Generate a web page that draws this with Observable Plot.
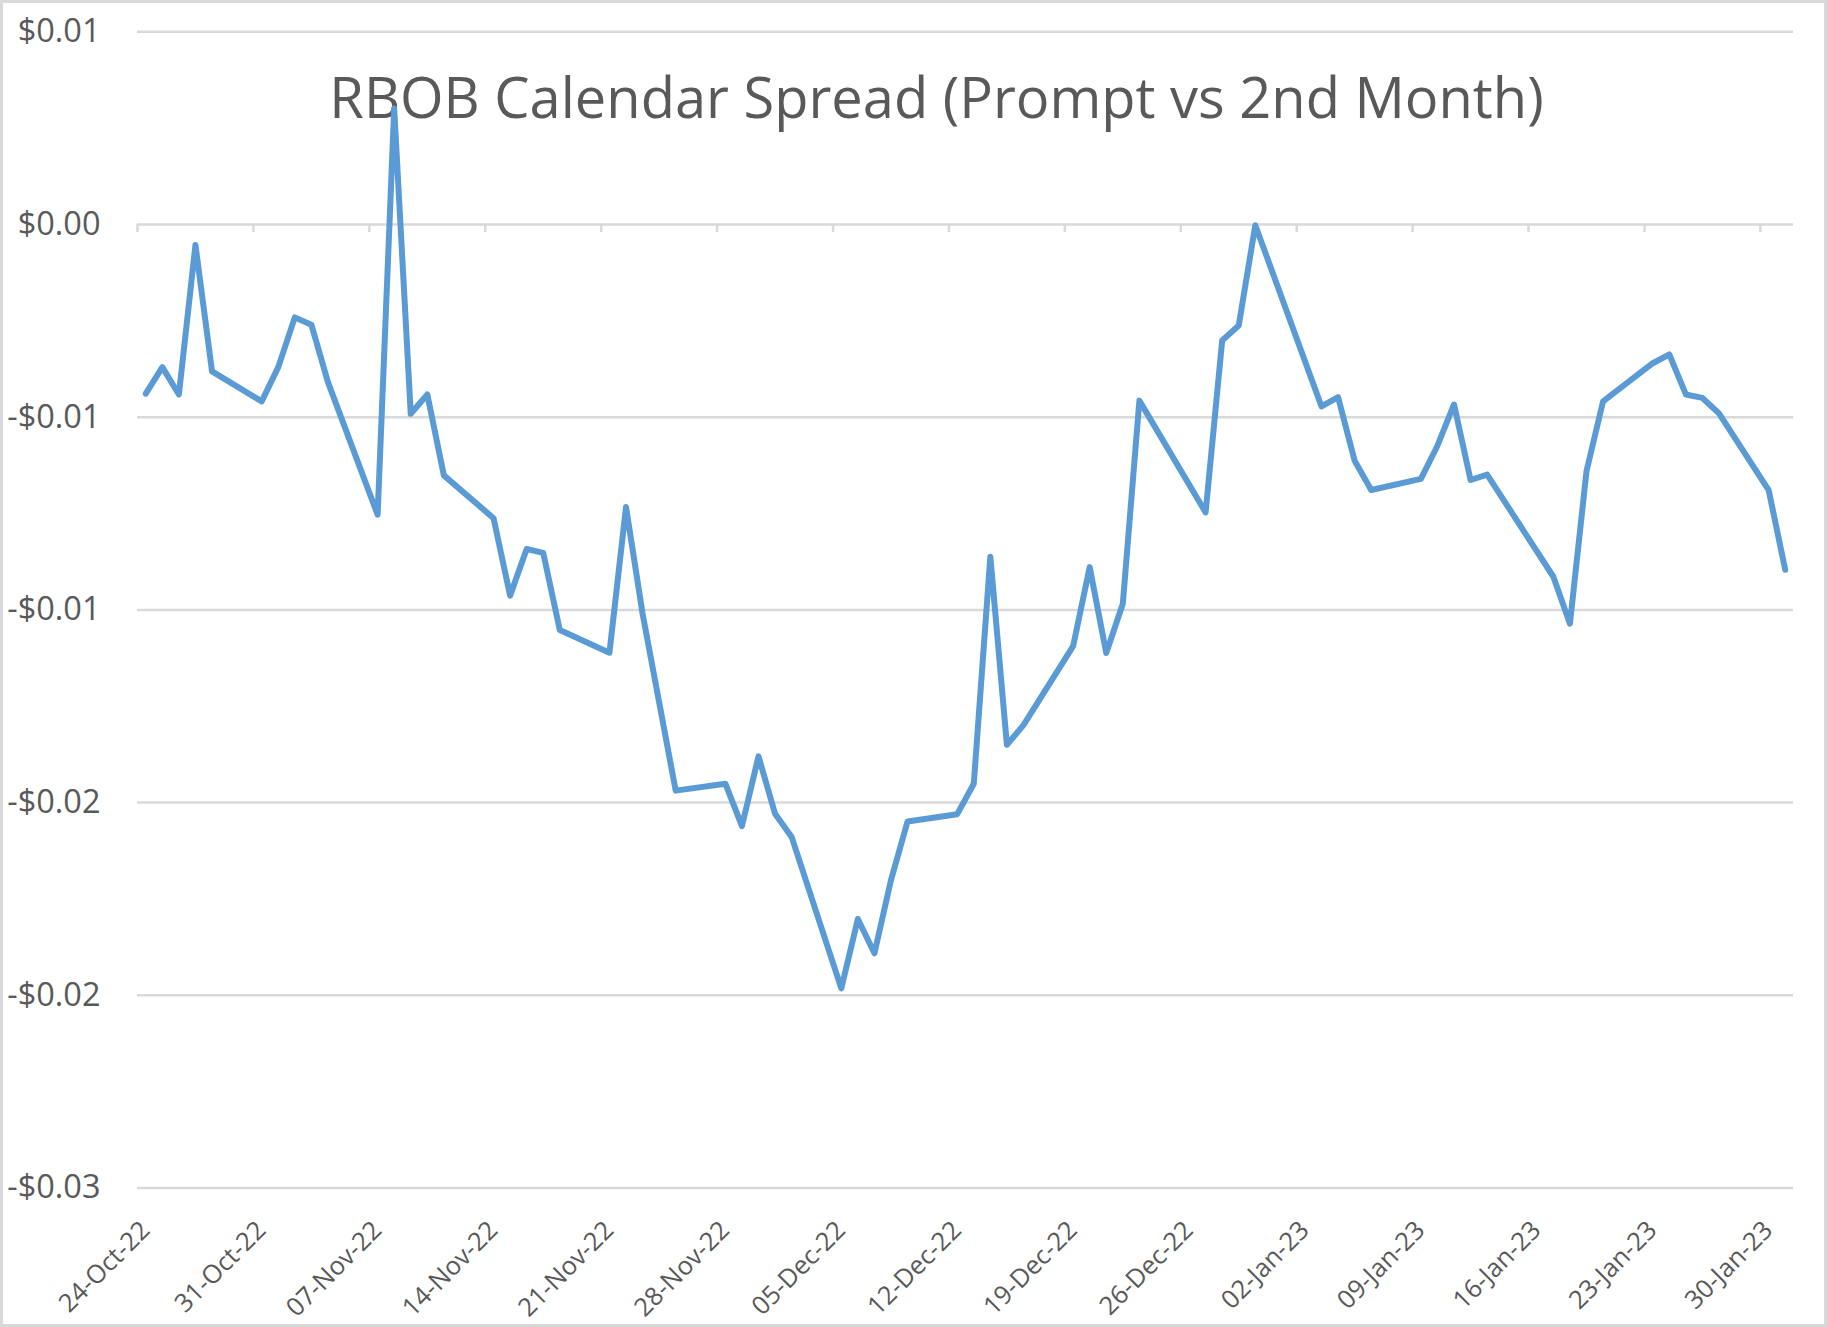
<!DOCTYPE html>
<html>
<head>
<meta charset="utf-8">
<script src="https://cdn.jsdelivr.net/npm/d3@7"></script>
<script src="https://cdn.jsdelivr.net/npm/@observablehq/plot@0.6"></script>
<style>
  html, body { margin: 0; padding: 0; background: #fff; }
  #wrap { position: relative; width: 1827px; height: 1327px; }
  #border { position: absolute; inset: 0; border: 3px solid #d9d9d9; box-sizing: border-box; pointer-events: none; }
</style>
</head>
<body>
<div id="wrap"><div id="chart"></div><div id="border"></div></div>
<script>
const title = "RBOB Calendar Spread (Prompt vs 2nd Month)";

const dates = [
  "2022-10-24","2022-10-25","2022-10-26","2022-10-27","2022-10-28",
  "2022-10-31","2022-11-01","2022-11-02","2022-11-03","2022-11-04",
  "2022-11-07","2022-11-08","2022-11-09","2022-11-10","2022-11-11",
  "2022-11-14","2022-11-15","2022-11-16","2022-11-17","2022-11-18",
  "2022-11-21","2022-11-22","2022-11-23","2022-11-25",
  "2022-11-28","2022-11-29","2022-11-30","2022-12-01","2022-12-02",
  "2022-12-05","2022-12-06","2022-12-07","2022-12-08","2022-12-09",
  "2022-12-12","2022-12-13","2022-12-14","2022-12-15","2022-12-16",
  "2022-12-19","2022-12-20","2022-12-21","2022-12-22","2022-12-23",
  "2022-12-27","2022-12-28","2022-12-29","2022-12-30",
  "2023-01-03","2023-01-04","2023-01-05","2023-01-06",
  "2023-01-09","2023-01-10","2023-01-11","2023-01-12","2023-01-13",
  "2023-01-17","2023-01-18","2023-01-19","2023-01-20",
  "2023-01-23","2023-01-24","2023-01-25","2023-01-26","2023-01-27",
  "2023-01-30","2023-01-31"
];

const spreads = [
  -0.00439, -0.00370, -0.00441, -0.00053, -0.00381,
  -0.00459, -0.00370, -0.00241, -0.00260, -0.00409,
  -0.00753,  0.00301, -0.00491, -0.00441, -0.00651,
  -0.00762, -0.00963, -0.00842, -0.00852, -0.01052,
  -0.01111, -0.00733, -0.01010, -0.01469,
  -0.01451, -0.01561, -0.01380, -0.01529, -0.01589,
  -0.01982, -0.01802, -0.01891, -0.01701, -0.01549,
  -0.01530, -0.01451, -0.00862, -0.01350, -0.01299,
  -0.01094, -0.00889, -0.01112, -0.00984, -0.00457,
  -0.00747, -0.00301, -0.00262, -0.00002,
  -0.00472, -0.00448, -0.00613, -0.00689,
  -0.00660, -0.00574, -0.00467, -0.00663, -0.00649,
  -0.00914, -0.01036, -0.00640, -0.00459,
  -0.00360, -0.00337, -0.00441, -0.00450, -0.00490,
  -0.00689, -0.00896
];

const xTicks = [
  "2022-10-24","2022-10-31","2022-11-07","2022-11-14","2022-11-21",
  "2022-11-28","2022-12-05","2022-12-12","2022-12-19","2022-12-26",
  "2023-01-02","2023-01-09","2023-01-16","2023-01-23","2023-01-30"
];
const xDomain = ["2022-10-24", "2023-02-01"];

const yTicks = [0.005, 0, -0.005, -0.01, -0.015, -0.02, -0.025];
const yTickLabels = ["$0.01", "$0.00", "-$0.01", "-$0.01", "-$0.02", "-$0.02", "-$0.03"];

const utc = s => new Date(s + "T00:00:00Z");
const midday = s => new Date(s + "T12:00:00Z");

const table = dates.map((d, i) => ({date: d, value: spreads[i]}));
const tickDates = xTicks.map(utc);

const chart = Plot.plot({
  width: 1827,
  height: 1327,
  marginLeft: 137,
  marginRight: 34,
  marginTop: 31.3,
  marginBottom: 139.5,
  style: {fontFamily: "'Open Sans', sans-serif", color: "#595959", background: "#fff", overflow: "visible"},
  x: {type: "utc", domain: xDomain.map(utc), axis: null},
  y: {domain: [-0.025, 0.005], axis: null},
  marks: [
    Plot.gridY(yTicks, {stroke: "#d9d9d9", strokeOpacity: 1, strokeWidth: 2.5}),
    Plot.ruleX(tickDates, {x: d => d, y1: 0, y2: 0, insetBottom: -8, stroke: "#d9d9d9", strokeWidth: 2.5}),
    Plot.axisY({
      ticks: yTicks,
      tickFormat: d => yTickLabels[yTicks.indexOf(d)],
      label: null,
      tickSize: 0,
      tickPadding: 37,
      fontSize: 32.5,
      fill: "#595959"
    }),
    Plot.axisX({
      ticks: tickDates,
      tickFormat: d3.utcFormat("%d-%b-%y"),
      label: null,
      tickRotate: -45,
      tickSize: 0,
      tickPadding: 31,
      textAnchor: "end",
      lineAnchor: "top",
      dx: 1,
      fontSize: 25.5,
      fill: "#595959"
    }),
    Plot.text([title], {
      frameAnchor: "top",
      text: d => d,
      lineAnchor: "bottom",
      dx: -29,
      dy: 86.4,
      fontSize: 56,
      fill: "#595959"
    }),
    Plot.line(table, {
      x: d => midday(d.date),
      y: "value",
      stroke: "#5b9bd5",
      strokeWidth: 6,
      strokeLinejoin: "round",
      strokeLinecap: "round"
    })
  ]
});

document.getElementById("chart").appendChild(chart);
</script>
</body>
</html>
